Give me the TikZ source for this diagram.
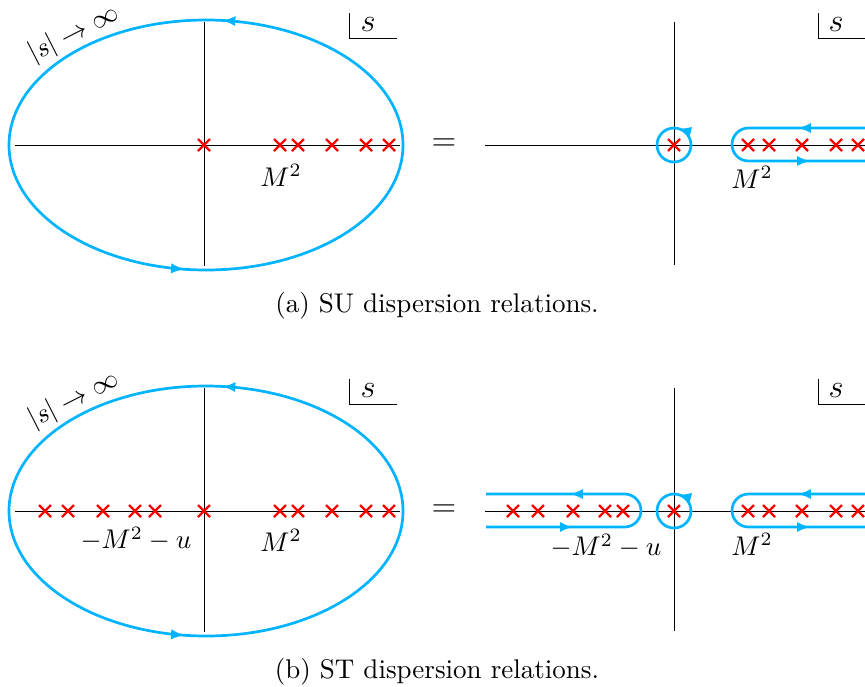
\documentclass[tikz,border=0pt]{standalone}
\usetikzlibrary{arrows.meta,decorations.markings}
\definecolor{cblue}{RGB}{0,180,255}
\begin{document}
\begin{tikzpicture}[x=0.37pt,y=0.37pt,
  axis/.style={line width=0.3pt},
  contour/.style={line width=1pt,draw=cblue},
  tipto/.style={contour,-{Latex[length=4.8pt,width=3.8pt]}},
  markat/.style={postaction={decorate},decoration={markings,mark=at position #1 with {\arrow[cblue]{Latex[length=4.8pt,width=3.8pt]}}}},
  pole/.style={draw=red,line width=0.8pt},
  cross/.pic={\draw[pole] (-6,-6) -- (6,6) (-6,6) -- (6,-6);},
  lbl/.style={inner sep=0pt}]
\useasboundingbox (0,0) rectangle (865,-686);

% ---------- (a) ----------
\begin{scope}
  % left
  \draw[axis] (15,-145) -- (400,-145);
  \draw[axis] (204,-22) -- (204,-266);
  \draw[contour,markat=0.234] (206,-145) ellipse[x radius=197,y radius=125];
  \path[markat=0.7285] (206,-145) ellipse[x radius=197,y radius=125];
  \node[lbl,rotate=27] (inf) at (74,-34) {$|s|\to\infty$};
  \foreach \x in {204,280,298,332,366,389} \pic at (\x,-145) {cross};
  \node[lbl] (m2a) at (281,-175) {$M^2$};
  \draw[axis] (349,-13) -- (349,-38) -- (397,-38);
  \node[lbl] (sa) at (368,-25) {\large$s$};
  \node[lbl] (eqa) at (444,-145) {\large$=$};
  % right
  \draw[axis] (485,-145) -- (865,-145);
  \draw[axis] (674,-22) -- (674,-265);
  \draw[contour,markat=0.21] (674,-145) circle[radius=17];
  \draw[contour] (866,-128) -- (748.5,-128) arc[start angle=90,end angle=270,radius=16.5] -- (866,-161);
  \draw[tipto] (812,-128) -- (798,-128);
  \draw[tipto] (796,-161) -- (810,-161);
  \foreach \x in {674,748,769,802,836,858} \pic at (\x,-145) {cross};
  \node[lbl] (m2ar) at (752,-177) {$M^2$};
  \draw[axis] (818,-13) -- (818,-38) -- (865,-38);
  \node[lbl] (sar) at (836,-25) {\large$s$};
  \node (capa) at (437,-306) {(a) SU dispersion relations.};
\end{scope}

% ---------- (b) ----------
\begin{scope}[yshift=-366*0.37pt]
  % left
  \draw[axis] (15,-145) -- (400,-145);
  \draw[axis] (204,-22) -- (204,-266);
  \draw[contour,markat=0.234] (206,-145) ellipse[x radius=197,y radius=125];
  \path[markat=0.7285] (206,-145) ellipse[x radius=197,y radius=125];
  \node[lbl,rotate=27] (infb) at (74,-34) {$|s|\to\infty$};
  \foreach \x in {45,68,103,135,155,204,280,298,332,366,389} \pic at (\x,-145) {cross};
  \node[lbl] (m2b) at (281,-174) {$M^2$};
  \node[lbl] (mub) at (136,-173) {$-M^2-u$};
  \draw[axis] (349,-13) -- (349,-38) -- (397,-38);
  \node[lbl] (sb) at (368,-25) {\large$s$};
  \node[lbl] (eqb) at (444,-145) {\large$=$};
  % right
  \draw[axis] (485,-145) -- (865,-145);
  \draw[axis] (674,-22) -- (674,-265);
  \draw[contour,markat=0.21] (674,-145) circle[radius=17];
  \draw[contour] (866,-128) -- (748.5,-128) arc[start angle=90,end angle=270,radius=16.5] -- (866,-161);
  \draw[tipto] (812,-128) -- (798,-128);
  \draw[tipto] (796,-161) -- (810,-161);
  \draw[contour] (486,-128) -- (624.5,-128) arc[start angle=90,end angle=-90,radius=16.5] -- (486,-161);
  \draw[tipto] (584,-128) -- (570,-128);
  \draw[tipto] (559,-161) -- (573,-161);
  \foreach \x in {513,538,573,605,623,674,748,769,802,836,858} \pic at (\x,-145) {cross};
  \node[lbl] (m2br) at (752,-178) {$M^2$};
  \node[lbl] (mubr) at (606,-180) {$-M^2-u$};
  \draw[axis] (818,-13) -- (818,-38) -- (865,-38);
  \node[lbl] (sbr) at (836,-25) {\large$s$};
  \node (capb) at (437,-306) {(b) ST dispersion relations.};
\end{scope}
\end{tikzpicture}
\end{document}
